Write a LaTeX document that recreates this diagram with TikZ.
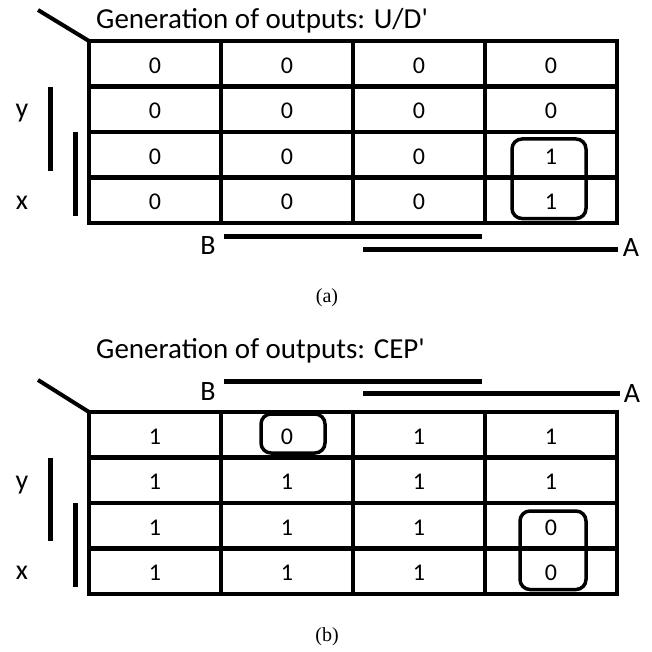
\documentclass[tikz,border=0pt]{standalone}
\usepackage{fontspec}
\setmainfont{Carlito}
\newfontfamily\capfont{Liberation Serif}
\newcommand{\sq}{\textquotesingle}
\begin{document}
\begin{tikzpicture}[x=1pt,y=-1pt,
  gridline/.style={line width=4.5pt},
  bar/.style={line width=5pt},
  cornerline/.style={line width=4pt},
  grp/.style={line width=3.5pt, rounded corners=10pt},
  cell/.style={font=\fontsize{24}{28}\selectfont, inner sep=0pt},
  lbl/.style={font=\fontsize{28}{32}\selectfont, inner sep=0pt},
  ttl/.style={font=\fontsize{29}{33}\selectfont, anchor=west, inner sep=0pt},
  caption/.style={font=\capfont\fontsize{20}{24}\selectfont, inner sep=0pt}]
\useasboundingbox (0,0) rectangle (651,652);

% ---------------- (a) U/D' ----------------
\node[ttl] (ta) at (96,21) {Generation of outputs: U/D\sq};
\draw[cornerline] (38,10) -- (89,41);
\draw[gridline] (89,41) rectangle (617,223);
\foreach \x in {221,353,485} \draw[gridline] (\x,41) -- (\x,223);
\foreach \y in {86.5,132,177.5} \draw[gridline] (89,\y) -- (617,\y);
\foreach \r/\vals in {1/{0,0,0,0},2/{0,0,0,0},3/{0,0,0,1},4/{0,0,0,1}}{
  \foreach \v [count=\c] in \vals
    \node[cell] (a-\r-\c) at ({89+132*(\c-0.5)},{41+45.5*(\r-0.5)+2}) {\v};
}
\draw[grp] (512,139) rectangle (586,218.5);
% row variables
\draw[bar] (50,87) -- (50,171);
\draw[bar] (75,132) -- (75,216);
\node[lbl] (ya) at (22,113) {y};
\node[lbl] (xa) at (22,203) {x};
% column variables
\draw[bar] (224,236) -- (482,236);
\draw[bar] (363,249) -- (618,249);
\node[lbl] (ba) at (208,246) {B};
\node[lbl] (aa) at (631,248) {A};
\node[caption] (capa) at (327,298) {(a)};

% ---------------- (b) CEP' ----------------
\node[ttl] (tb) at (96,351) {Generation of outputs: CEP\sq};
\draw[cornerline] (38,380) -- (89,412);
\draw[gridline] (89,412) rectangle (617,594);
\foreach \x in {221,353,485} \draw[gridline] (\x,412) -- (\x,594);
\foreach \y in {457.5,503,548.5} \draw[gridline] (89,\y) -- (617,\y);
\foreach \r/\vals in {1/{1,0,1,1},2/{1,1,1,1},3/{1,1,1,0},4/{1,1,1,0}}{
  \foreach \v [count=\c] in \vals
    \node[cell] (b-\r-\c) at ({89+132*(\c-0.5)},{412+45.5*(\r-0.5)+2}) {\v};
}
\draw[grp] (261,414) rectangle (325,453);
\draw[grp] (520,511) rectangle (586,589.5);
% row variables
\draw[bar] (50,458) -- (50,541);
\draw[bar] (75,503) -- (75,587);
\node[lbl] (yb) at (22,485) {y};
\node[lbl] (xb) at (22,573) {x};
% column variables
\draw[bar] (224,381) -- (482,381);
\draw[bar] (363,393) -- (620,393);
\node[lbl] (bb) at (208,392) {B};
\node[lbl] (ab) at (632,394) {A};
\node[caption] (capb) at (327,637) {(b)};
\end{tikzpicture}
\end{document}
